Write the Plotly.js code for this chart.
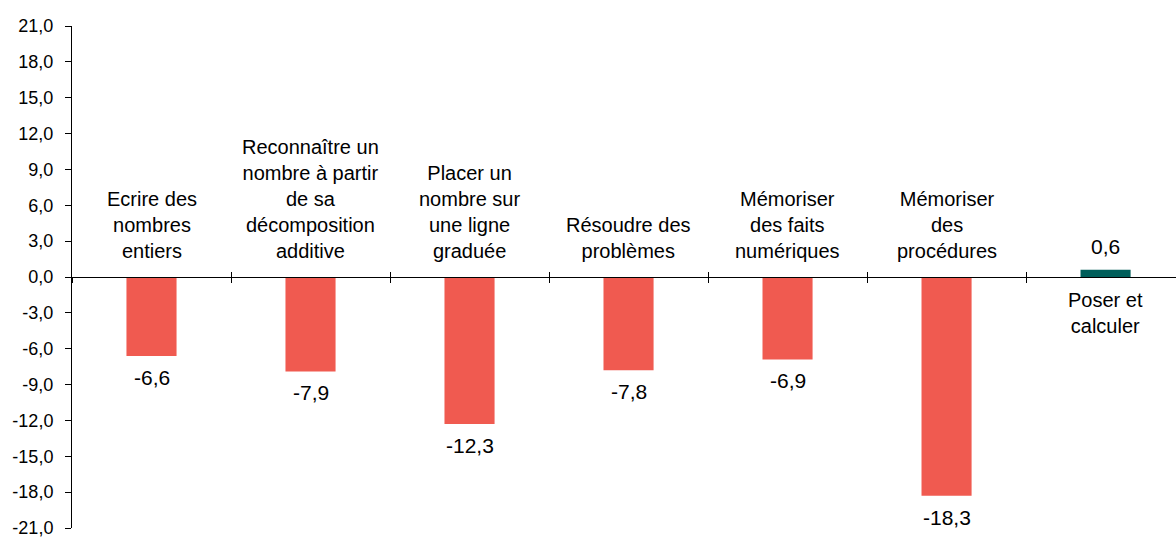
<!DOCTYPE html>
<html>
<head>
<meta charset="utf-8">
<script src="https://cdn.plot.ly/plotly-3.0.1.min.js"></script>
<style>html,body{margin:0;padding:0;overflow:hidden;background:#fff}</style>
</head>
<body>
<div id="chart" style="width:1176px;height:537px"></div>
<script>
const categories = [
  "Ecrire des<br>nombres<br>entiers",
  "Reconnaître un<br>nombre à partir<br>de sa<br>décomposition<br>additive",
  "Placer un<br>nombre sur<br>une ligne<br>graduée",
  "Résoudre des<br>problèmes",
  "Mémoriser<br>des faits<br>numériques",
  "Mémoriser<br>des<br>procédures",
  "Poser et<br>calculer"
];
const values = [-6.6, -7.9, -12.3, -7.8, -6.9, -18.3, 0.6];
const yTickVals = [-21, -18, -15, -12, -9, -6, -3, 0, 3, 6, 9, 12, 15, 18, 21];

const fmt = v => v.toFixed(1).replace('.', ',');
const yTickText = yTickVals.map(fmt);
const barColors = values.map(v => v < 0 ? '#F05A50' : '#005E5A');
const FONT = '"Liberation Sans Narrow", "Arial Narrow", "Liberation Sans", Arial, sans-serif';

const traces = [
  {
    type: 'bar',
    x: categories,
    y: values,
    marker: {color: barColors},
    hoverinfo: 'skip'
  },
  {
    type: 'scatter',
    mode: 'none',
    x: categories,
    y: values,
    xaxis: 'x2',
    hoverinfo: 'skip',
    showlegend: false
  }
];

const catAnn = categories.map((c, i) => ({
  x: c, y: 0, xref: 'x', yref: 'y',
  text: c,
  showarrow: false,
  yanchor: values[i] < 0 ? 'bottom' : 'top',
  yshift: values[i] < 0 ? 13 : -10,
  font: {family: FONT, size: 20, color: '#000'},
  align: 'center'
}));
const valAnn = values.map((v, i) => ({
  x: categories[i], y: v, xref: 'x', yref: 'y',
  text: fmt(v),
  showarrow: false,
  yanchor: v < 0 ? 'top' : 'bottom',
  yshift: v < 0 ? -8 : 10,
  font: {family: FONT, size: 21, color: '#000'}
}));

const layout = {
  width: 1176, height: 537,
  margin: {l: 72, r: 0, t: 26, b: 9},
  paper_bgcolor: '#fff', plot_bgcolor: '#fff',
  showlegend: false,
  bargap: 0.685,
  font: {family: FONT, color: '#000'},
  xaxis: {
    type: 'category',
    range: [-0.5, 6.443],
    anchor: 'free', position: 0.5,
    showline: true, linecolor: '#000', linewidth: 1,
    ticks: 'outside', tickson: 'boundaries', ticklen: 5, tickcolor: '#000',
    showticklabels: false, showgrid: false, zeroline: false
  },
  xaxis2: {
    type: 'category',
    overlaying: 'x', matches: 'x',
    anchor: 'free', position: 0.5,
    showline: false,
    ticks: 'inside', tickson: 'boundaries', ticklen: 5, tickcolor: '#000',
    showticklabels: false, showgrid: false, zeroline: false
  },
  yaxis: {
    range: [-21, 21],
    tickvals: yTickVals, ticktext: yTickText,
    showline: true, linecolor: '#000', linewidth: 1,
    ticks: 'outside', ticklen: 6, tickcolor: '#000',
    ticklabelstandoff: 8,
    ticklabeloverflow: 'allow',
    tickfont: {family: FONT, size: 18, color: '#000'},
    showgrid: false, zeroline: false
  },
  annotations: catAnn.concat(valAnn)
};

Plotly.newPlot('chart', traces, layout, {displayModeBar: false, staticPlot: true});
</script>
</body>
</html>
